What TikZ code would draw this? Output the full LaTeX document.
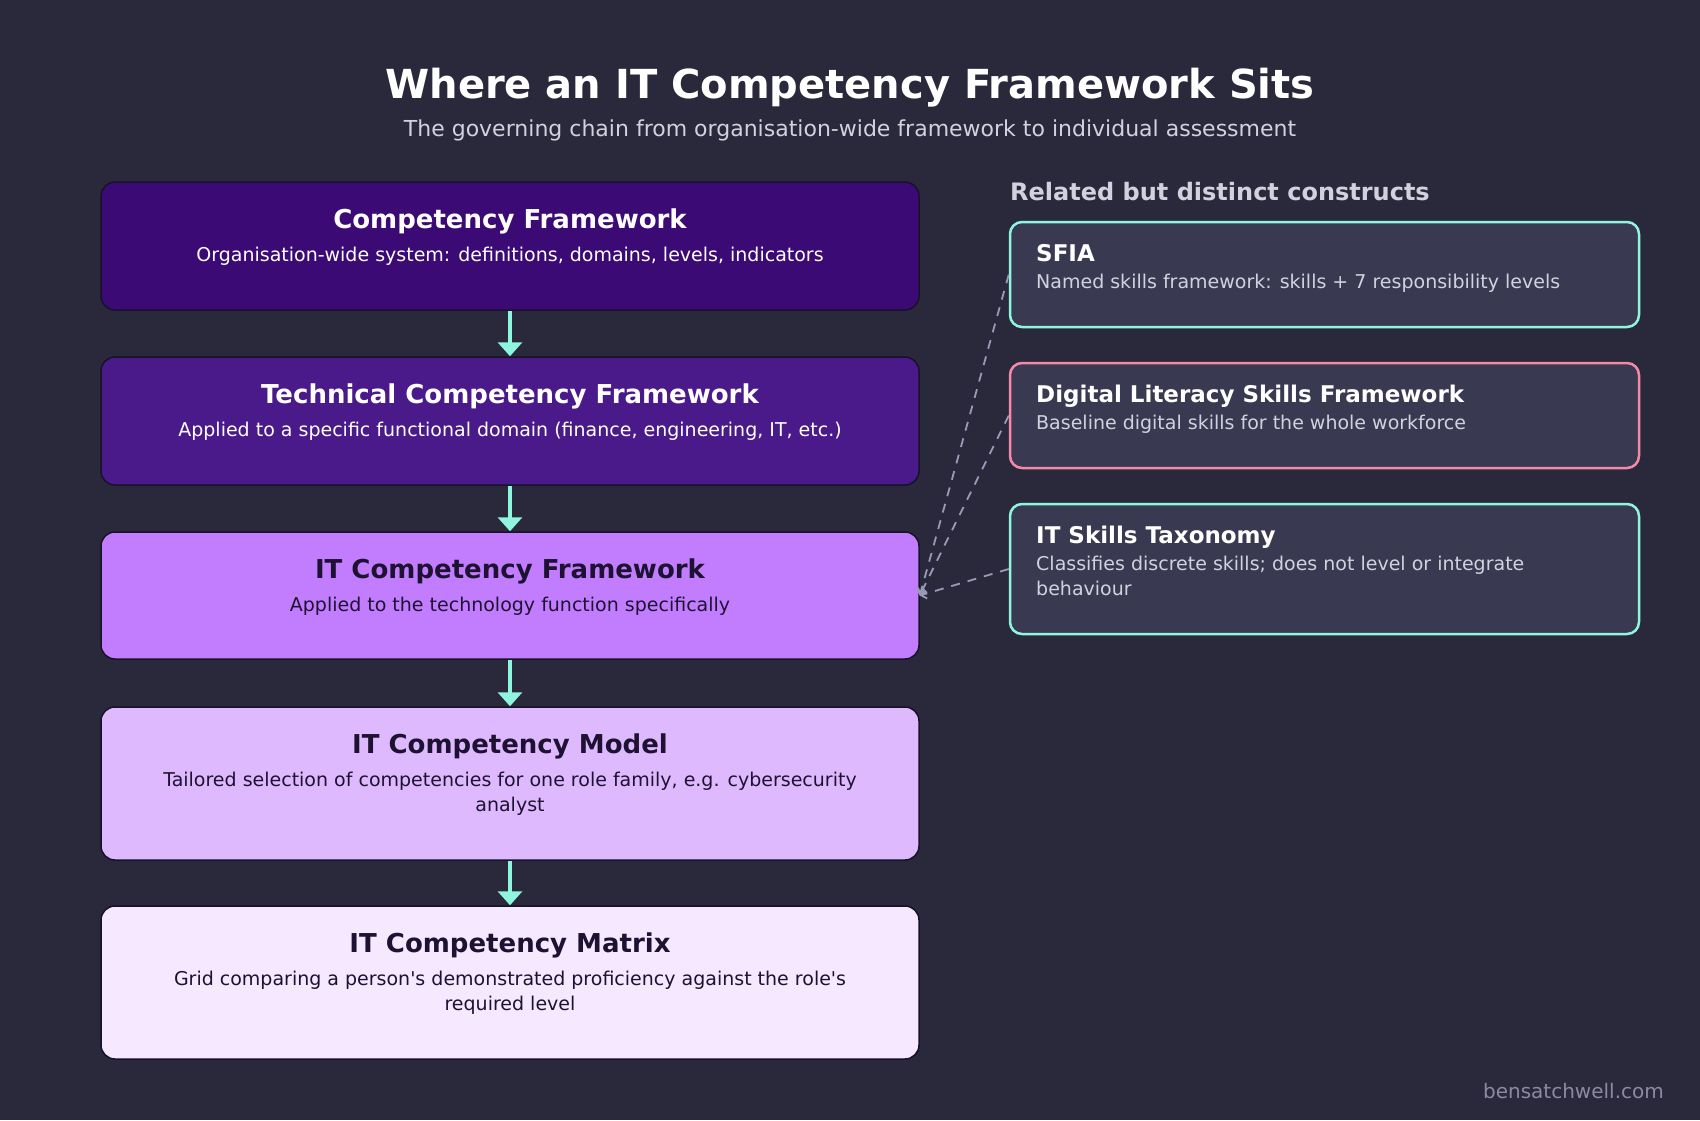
\documentclass[tikz,border=0pt]{standalone}
\usepackage{fontspec}
\setmainfont{DejaVu Sans}[Ligatures=TeXOff]
\usetikzlibrary{arrows.meta}
\definecolor{bgdark}{HTML}{2A293C}
\definecolor{boxedge}{HTML}{17122A}
\definecolor{frameA}{HTML}{3B0A74}
\definecolor{frameB}{HTML}{4A1A8A}
\definecolor{frameC}{HTML}{C17DFD}
\definecolor{frameD}{HTML}{DFB9FE}
\definecolor{frameE}{HTML}{F5E8FF}
\definecolor{inkdark}{HTML}{1E1233}
\definecolor{sidefill}{HTML}{3A3952}
\definecolor{mint}{HTML}{8FF5DE}
\definecolor{rose}{HTML}{F38BA8}
\definecolor{softgray}{HTML}{D2D2DE}
\definecolor{linkgray}{HTML}{9A9AB8}
\definecolor{footgray}{HTML}{8A8AA0}

\begin{document}
\begin{tikzpicture}[x=1pt,y=-1pt,
  chainbox/.style={draw=boxedge, line width=1.5pt, rounded corners=14pt, minimum width=818pt, inner sep=0pt},
  sidebox/.style={fill=sidefill, line width=2.5pt, rounded corners=12pt, minimum width=629pt, minimum height=105pt, inner sep=0pt},
  boxtitle/.style={font=\fontsize{26}{31}\selectfont\bfseries, anchor=base, inner sep=0pt},
  boxdesc/.style={font=\fontsize{19}{25}\selectfont, anchor=base, align=center, inner sep=0pt},
  sidetitle/.style={font=\fontsize{23}{27}\selectfont\bfseries, text=white, anchor=base west, inner sep=0pt},
  sidedesc/.style={font=\fontsize{19}{25}\selectfont, text=softgray, anchor=base west, align=left, inner sep=0pt},
  down/.style={draw=mint, line width=3.5pt, -{Triangle[width=24pt,length=14pt]}},
  link/.style={draw=linkgray, line width=1.8pt, dash pattern=on 9pt off 8pt, -{Straight Barb[length=5pt,width=10pt]}}]
\fill[bgdark] (0,0) rectangle (1700,1120);
% title
\node[font=\fontsize{40}{48}\selectfont\bfseries, text=white, anchor=base, inner sep=0pt] (title) at (850,98) {Where an IT Competency Framework Sits};
\node[font=\fontsize{22}{26}\selectfont, text=softgray, anchor=base, inner sep=0pt] (subtitle) at (850,136) {The governing chain from organisation-wide framework to individual assessment};
% governing chain
\node[chainbox, fill=frameA, minimum height=128pt] (cf) at (510,246) {};
\node[boxtitle, text=white] (cftitle) at (510,228) {Competency Framework};
\node[boxdesc, text=white] (cfdesc) at (510,261) {Organisation-wide system: definitions, domains, levels, indicators};
\node[chainbox, fill=frameB, minimum height=128pt] (tcf) at (510,421) {};
\node[boxtitle, text=white] (tcftitle) at (510,403) {Technical Competency Framework};
\node[boxdesc, text=white] (tcfdesc) at (510,436) {Applied to a specific functional domain (finance, engineering, IT, etc.)};
\node[chainbox, fill=frameC, minimum height=127pt] (itcf) at (510,595.5) {};
\node[boxtitle, text=inkdark] (itcftitle) at (510,578) {IT Competency Framework};
\node[boxdesc, text=inkdark] (itcfdesc) at (510,611) {Applied to the technology function specifically};
\node[chainbox, fill=frameD, minimum height=153pt] (itcm) at (510,783.5) {};
\node[boxtitle, text=inkdark] (itcmtitle) at (510,753) {IT Competency Model};
\node[boxdesc, text=inkdark] (itcmdesc) at (510,811) {Tailored selection of competencies for one role family, e.g. cybersecurity\\analyst};
\node[chainbox, fill=frameE, minimum height=153pt] (itmx) at (510,982.5) {};
\node[boxtitle, text=inkdark] (itmxtitle) at (510,952) {IT Competency Matrix};
\node[boxdesc, text=inkdark] (itmxdesc) at (510,1010) {Grid comparing a person's demonstrated proficiency against the role's\\required level};
\draw[down] (cf) -- (tcf);
\draw[down] (tcf) -- (itcf);
\draw[down] (itcf) -- (itcm);
\draw[down] (itcm) -- (itmx);
% related constructs
\node[font=\fontsize{24}{28}\selectfont\bfseries, text=softgray, anchor=base west, inner sep=0pt] (related) at (1010,200) {Related but distinct constructs};
\node[sidebox, draw=mint] (sfia) at (1324.5,274.5) {};
\node[sidetitle] (sfiatitle) at (1036,261) {SFIA};
\node[sidedesc] (sfiadesc) at (1036,288) {Named skills framework: skills + 7 responsibility levels};
\node[sidebox, draw=rose] (dlsf) at (1324.5,415.5) {};
\node[sidetitle] (dlsftitle) at (1036,402) {Digital Literacy Skills Framework};
\node[sidedesc] (dlsfdesc) at (1036,429) {Baseline digital skills for the whole workforce};
\node[sidebox, draw=mint, minimum height=130pt] (itst) at (1324.5,569) {};
\node[sidetitle] (itsttitle) at (1036,543) {IT Skills Taxonomy};
\node[sidedesc] (itstdesc) at (1036,595) {Classifies discrete skills; does not level or integrate\\behaviour};
\draw[link] (sfia.west) -- (itcf.east);
\draw[link] (dlsf.west) -- (itcf.east);
\draw[link] (itst.west) -- (itcf.east);
% footer
\node[font=\fontsize{20}{24}\selectfont, text=footgray, anchor=base east, inner sep=0pt] (footer) at (1664,1098) {bensatchwell.com};
\end{tikzpicture}
\end{document}
